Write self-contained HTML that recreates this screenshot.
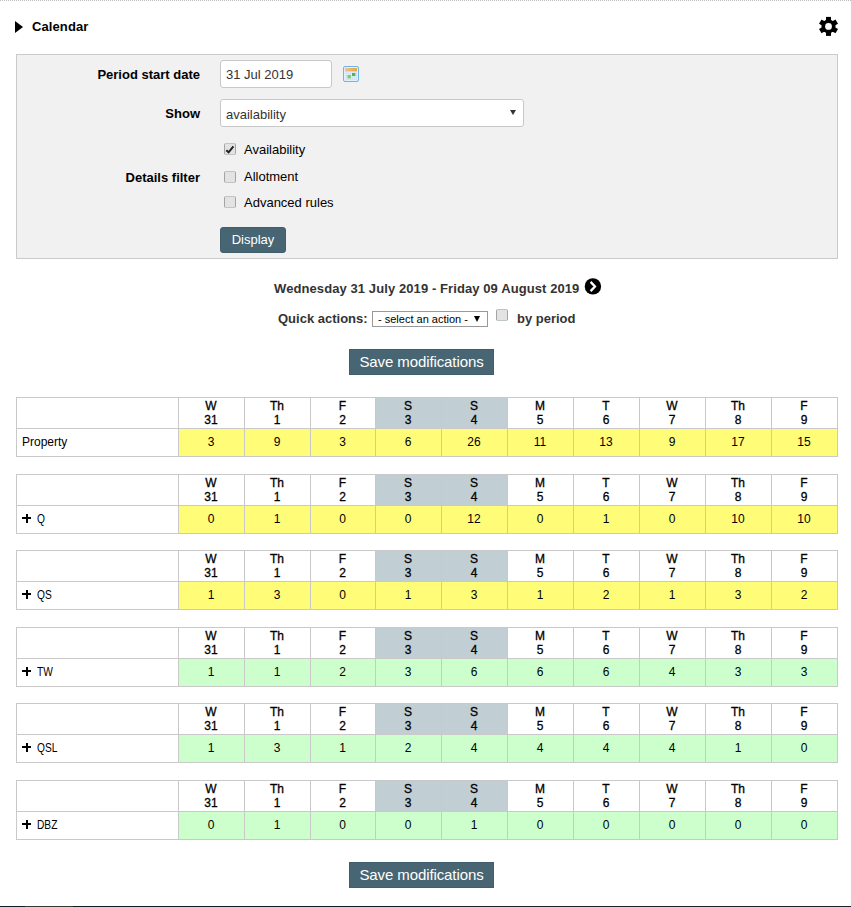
<!DOCTYPE html>
<html><head><meta charset="utf-8">
<style>
html,body{margin:0;padding:0;background:#fff;}
body{width:851px;height:907px;position:relative;overflow:hidden;font-family:"Liberation Sans",sans-serif;font-size:13px;color:#000;}
.a{position:absolute;white-space:nowrap;}
.topline{left:0;top:0;width:851px;height:0;border-top:1px dotted #bdbdbd;}
.tri{left:15px;top:21px;width:0;height:0;border-left:8px solid #000;border-top:6px solid transparent;border-bottom:6px solid transparent;}
.b{font-weight:bold;}
.panel{left:16px;top:54px;width:820px;height:203px;background:#f1f1f1;border:1px solid #cacaca;}
.lbl{font-weight:bold;text-align:right;width:200px;left:0;line-height:15px;}
.inp{background:#fff;border:1px solid #c8c8c8;border-radius:3px;box-sizing:border-box;}
.cb{width:12px;height:12px;box-sizing:border-box;border:1px solid;border-color:#bdc7bd #a4a4a4 #bdc7bd #a4a4a4;border-radius:2px;background:#e3e3e3;}
.btn{background:#476572;color:#fff;box-sizing:border-box;text-align:center;border:1px solid #415e6b;}
.tb{position:absolute;left:16px;width:822px;height:60px;font-size:12px;}
.tb div{position:absolute;}
.wk{top:1px;height:30px;background:#c1ced4;}
.dr{left:162px;top:32px;width:660px;height:27px;}
.y{background:#fffc78;}
.g{background:#ccffcc;}
.hl{left:0;width:822px;height:1px;background:#c9c9c9;}
.vl{top:0;width:1px;height:60px;background:#c9c9c9;}
.ht{top:2px;line-height:14px;font-weight:normal;-webkit-text-stroke:0.3px #000;text-align:center;}
.dt{top:38px;line-height:14px;text-align:center;}
.lt{left:6px;top:38px;line-height:14px;}
.nx{transform:scaleX(0.85);transform-origin:0 0;}
.pl{left:6px;top:40px;width:9px;height:9px;}
.pl:before{content:"";position:absolute;left:0;top:3.2px;width:9px;height:2.3px;background:#000;}
.pl:after{content:"";position:absolute;left:3.5px;top:0;width:2.2px;height:9px;background:#000;}
.bottom{left:0;top:906px;width:851px;height:1px;background:#1e2225;}
</style></head><body>
<div class="a topline"></div>
<div class="a tri"></div>
<div class="a b" style="left:32px;top:19px;line-height:15px;letter-spacing:0.1px;">Calendar</div>
<svg class="a" style="left:818px;top:16px" width="21" height="21" viewBox="0 0 21 21">
<g fill="#000"><circle cx="10.5" cy="10.4" r="7"/>
<rect x="8" y="0.9" width="5" height="19"/>
<rect x="8" y="0.9" width="5" height="19" transform="rotate(60 10.5 10.4)"/>
<rect x="8" y="0.9" width="5" height="19" transform="rotate(120 10.5 10.4)"/></g>
<circle cx="10.5" cy="10.4" r="3.4" fill="#fff"/></svg>

<div class="a panel"></div>
<div class="a lbl" style="top:67px">Period start date</div>
<div class="a inp" style="left:220px;top:60px;width:112px;height:28px;"></div>
<div class="a" style="left:226px;top:67px;line-height:15px;color:#333;">31 Jul 2019</div>
<svg class="a" style="left:343px;top:66px" width="16" height="16" viewBox="0 0 16 16">
<defs><linearGradient id="og" x1="0" x2="1" y1="0" y2="0"><stop offset="0" stop-color="#f4c488"/><stop offset="1" stop-color="#e6a445"/></linearGradient></defs>
<rect x="0.5" y="0.5" width="15" height="15" rx="1.5" fill="#e2f0fc" stroke="#72b2e4"/>
<rect x="2" y="2" width="12" height="3.6" fill="url(#og)"/>
<rect x="2" y="5.6" width="12" height="8.4" fill="#d3e3f6"/>
<path d="M2 6.6h12M2 8.6h12M2 10.6h12M2 12.6h12" stroke="#f4f8fd" stroke-width="0.6" stroke-dasharray="1 1"/>
<rect x="4.5" y="9" width="3.4" height="3.4" fill="#80cc68"/>
<rect x="9" y="7" width="3.4" height="3" fill="#5cb04c"/>
</svg>
<div class="a lbl" style="top:106px">Show</div>
<div class="a inp" style="left:220px;top:99px;width:304px;height:28px;"></div>
<div class="a" style="left:226px;top:107px;line-height:15px;color:#333;">availability</div>
<div class="a" style="left:510px;top:110px;width:0;height:0;border-left:3px solid transparent;border-right:3px solid transparent;border-top:5px solid #333;"></div>
<div class="a lbl" style="top:170px">Details filter</div>
<div class="a cb" style="left:224px;top:143px;"></div>
<svg class="a" style="left:224px;top:143px" width="12" height="12" viewBox="0 0 12 12"><path d="M2.3 7.2 L4.6 9.3 L9.4 3.4" fill="none" stroke="#222" stroke-width="2"/></svg>
<div class="a cb" style="left:224px;top:171px;"></div>
<div class="a cb" style="left:224px;top:196px;"></div>
<div class="a" style="left:244px;top:142px;line-height:15px;">Availability</div>
<div class="a" style="left:244px;top:169px;line-height:15px;">Allotment</div>
<div class="a" style="left:244px;top:195px;line-height:15px;">Advanced rules</div>
<div class="a btn" style="left:220px;top:227px;width:66px;height:26px;border-radius:3px;line-height:24px;">Display</div>

<div class="a b" style="left:274px;top:281px;color:#333;line-height:15px;letter-spacing:0.09px;">Wednesday 31 July 2019 - Friday 09 August 2019</div>
<svg class="a" style="left:584px;top:278px" width="18" height="18" viewBox="0 0 18 18"><circle cx="8.9" cy="8.4" r="8.2" fill="#000"/><path d="M6.6 3.9 L11 8.5 L6.6 13.1" fill="none" stroke="#fff" stroke-width="2.3"/></svg>
<div class="a b" style="left:278px;top:311px;color:#333;line-height:15px;">Quick actions:</div>
<div class="a" style="left:372px;top:311px;width:116px;height:16px;box-sizing:border-box;border:1px solid #999;background:#fff;"></div>
<div class="a" style="left:378px;top:312px;font-size:11px;line-height:14px;">- select an action -</div>
<div class="a" style="left:474px;top:316px;width:0;height:0;border-left:3.5px solid transparent;border-right:3.5px solid transparent;border-top:6px solid #000;"></div>
<div class="a cb" style="left:496px;top:309px;"></div>
<div class="a b" style="left:517px;top:311px;color:#333;line-height:15px;">by period</div>

<div class="a btn" style="left:349px;top:349px;width:145px;height:26px;line-height:24px;font-size:15px;letter-spacing:-0.1px;">Save modifications</div>
<!--TABLES-->
<div class="tb" style="top:397px"><div class="wk" style="left:359px;width:132px"></div><div class="dr y"></div><div class="hl" style="top:0px"></div><div class="hl" style="top:31px"></div><div class="hl" style="top:59px"></div><div class="vl" style="left:0px"></div><div class="vl" style="left:162px"></div><div class="vl" style="left:228px"></div><div class="vl" style="left:294px"></div><div class="vl" style="left:359px"></div><div class="vl" style="left:425px"></div><div class="vl" style="left:491px"></div><div class="vl" style="left:557px"></div><div class="vl" style="left:623px"></div><div class="vl" style="left:689px"></div><div class="vl" style="left:755px"></div><div class="vl" style="left:821px"></div><div class="ht" style="left:162px;width:66px">W<br>31</div><div class="dt" style="left:162px;width:66px">3</div><div class="ht" style="left:228px;width:66px">Th<br>1</div><div class="dt" style="left:228px;width:66px">9</div><div class="ht" style="left:294px;width:65px">F<br>2</div><div class="dt" style="left:294px;width:65px">3</div><div class="ht" style="left:359px;width:66px">S<br>3</div><div class="dt" style="left:359px;width:66px">6</div><div class="ht" style="left:425px;width:66px">S<br>4</div><div class="dt" style="left:425px;width:66px">26</div><div class="ht" style="left:491px;width:66px">M<br>5</div><div class="dt" style="left:491px;width:66px">11</div><div class="ht" style="left:557px;width:66px">T<br>6</div><div class="dt" style="left:557px;width:66px">13</div><div class="ht" style="left:623px;width:66px">W<br>7</div><div class="dt" style="left:623px;width:66px">9</div><div class="ht" style="left:689px;width:66px">Th<br>8</div><div class="dt" style="left:689px;width:66px">17</div><div class="ht" style="left:755px;width:66px">F<br>9</div><div class="dt" style="left:755px;width:66px">15</div><div class="lt">Property</div></div>
<div class="tb" style="top:474px"><div class="wk" style="left:359px;width:132px"></div><div class="dr y"></div><div class="hl" style="top:0px"></div><div class="hl" style="top:31px"></div><div class="hl" style="top:59px"></div><div class="vl" style="left:0px"></div><div class="vl" style="left:162px"></div><div class="vl" style="left:228px"></div><div class="vl" style="left:294px"></div><div class="vl" style="left:359px"></div><div class="vl" style="left:425px"></div><div class="vl" style="left:491px"></div><div class="vl" style="left:557px"></div><div class="vl" style="left:623px"></div><div class="vl" style="left:689px"></div><div class="vl" style="left:755px"></div><div class="vl" style="left:821px"></div><div class="ht" style="left:162px;width:66px">W<br>31</div><div class="dt" style="left:162px;width:66px">0</div><div class="ht" style="left:228px;width:66px">Th<br>1</div><div class="dt" style="left:228px;width:66px">1</div><div class="ht" style="left:294px;width:65px">F<br>2</div><div class="dt" style="left:294px;width:65px">0</div><div class="ht" style="left:359px;width:66px">S<br>3</div><div class="dt" style="left:359px;width:66px">0</div><div class="ht" style="left:425px;width:66px">S<br>4</div><div class="dt" style="left:425px;width:66px">12</div><div class="ht" style="left:491px;width:66px">M<br>5</div><div class="dt" style="left:491px;width:66px">0</div><div class="ht" style="left:557px;width:66px">T<br>6</div><div class="dt" style="left:557px;width:66px">1</div><div class="ht" style="left:623px;width:66px">W<br>7</div><div class="dt" style="left:623px;width:66px">0</div><div class="ht" style="left:689px;width:66px">Th<br>8</div><div class="dt" style="left:689px;width:66px">10</div><div class="ht" style="left:755px;width:66px">F<br>9</div><div class="dt" style="left:755px;width:66px">10</div><div class="pl"></div><div class="lt nx" style="left:21px">Q</div></div>
<div class="tb" style="top:550px"><div class="wk" style="left:359px;width:132px"></div><div class="dr y"></div><div class="hl" style="top:0px"></div><div class="hl" style="top:31px"></div><div class="hl" style="top:59px"></div><div class="vl" style="left:0px"></div><div class="vl" style="left:162px"></div><div class="vl" style="left:228px"></div><div class="vl" style="left:294px"></div><div class="vl" style="left:359px"></div><div class="vl" style="left:425px"></div><div class="vl" style="left:491px"></div><div class="vl" style="left:557px"></div><div class="vl" style="left:623px"></div><div class="vl" style="left:689px"></div><div class="vl" style="left:755px"></div><div class="vl" style="left:821px"></div><div class="ht" style="left:162px;width:66px">W<br>31</div><div class="dt" style="left:162px;width:66px">1</div><div class="ht" style="left:228px;width:66px">Th<br>1</div><div class="dt" style="left:228px;width:66px">3</div><div class="ht" style="left:294px;width:65px">F<br>2</div><div class="dt" style="left:294px;width:65px">0</div><div class="ht" style="left:359px;width:66px">S<br>3</div><div class="dt" style="left:359px;width:66px">1</div><div class="ht" style="left:425px;width:66px">S<br>4</div><div class="dt" style="left:425px;width:66px">3</div><div class="ht" style="left:491px;width:66px">M<br>5</div><div class="dt" style="left:491px;width:66px">1</div><div class="ht" style="left:557px;width:66px">T<br>6</div><div class="dt" style="left:557px;width:66px">2</div><div class="ht" style="left:623px;width:66px">W<br>7</div><div class="dt" style="left:623px;width:66px">1</div><div class="ht" style="left:689px;width:66px">Th<br>8</div><div class="dt" style="left:689px;width:66px">3</div><div class="ht" style="left:755px;width:66px">F<br>9</div><div class="dt" style="left:755px;width:66px">2</div><div class="pl"></div><div class="lt nx" style="left:21px">QS</div></div>
<div class="tb" style="top:627px"><div class="wk" style="left:359px;width:132px"></div><div class="dr g"></div><div class="hl" style="top:0px"></div><div class="hl" style="top:31px"></div><div class="hl" style="top:59px"></div><div class="vl" style="left:0px"></div><div class="vl" style="left:162px"></div><div class="vl" style="left:228px"></div><div class="vl" style="left:294px"></div><div class="vl" style="left:359px"></div><div class="vl" style="left:425px"></div><div class="vl" style="left:491px"></div><div class="vl" style="left:557px"></div><div class="vl" style="left:623px"></div><div class="vl" style="left:689px"></div><div class="vl" style="left:755px"></div><div class="vl" style="left:821px"></div><div class="ht" style="left:162px;width:66px">W<br>31</div><div class="dt" style="left:162px;width:66px">1</div><div class="ht" style="left:228px;width:66px">Th<br>1</div><div class="dt" style="left:228px;width:66px">1</div><div class="ht" style="left:294px;width:65px">F<br>2</div><div class="dt" style="left:294px;width:65px">2</div><div class="ht" style="left:359px;width:66px">S<br>3</div><div class="dt" style="left:359px;width:66px">3</div><div class="ht" style="left:425px;width:66px">S<br>4</div><div class="dt" style="left:425px;width:66px">6</div><div class="ht" style="left:491px;width:66px">M<br>5</div><div class="dt" style="left:491px;width:66px">6</div><div class="ht" style="left:557px;width:66px">T<br>6</div><div class="dt" style="left:557px;width:66px">6</div><div class="ht" style="left:623px;width:66px">W<br>7</div><div class="dt" style="left:623px;width:66px">4</div><div class="ht" style="left:689px;width:66px">Th<br>8</div><div class="dt" style="left:689px;width:66px">3</div><div class="ht" style="left:755px;width:66px">F<br>9</div><div class="dt" style="left:755px;width:66px">3</div><div class="pl"></div><div class="lt nx" style="left:21px">TW</div></div>
<div class="tb" style="top:703px"><div class="wk" style="left:359px;width:132px"></div><div class="dr g"></div><div class="hl" style="top:0px"></div><div class="hl" style="top:31px"></div><div class="hl" style="top:59px"></div><div class="vl" style="left:0px"></div><div class="vl" style="left:162px"></div><div class="vl" style="left:228px"></div><div class="vl" style="left:294px"></div><div class="vl" style="left:359px"></div><div class="vl" style="left:425px"></div><div class="vl" style="left:491px"></div><div class="vl" style="left:557px"></div><div class="vl" style="left:623px"></div><div class="vl" style="left:689px"></div><div class="vl" style="left:755px"></div><div class="vl" style="left:821px"></div><div class="ht" style="left:162px;width:66px">W<br>31</div><div class="dt" style="left:162px;width:66px">1</div><div class="ht" style="left:228px;width:66px">Th<br>1</div><div class="dt" style="left:228px;width:66px">3</div><div class="ht" style="left:294px;width:65px">F<br>2</div><div class="dt" style="left:294px;width:65px">1</div><div class="ht" style="left:359px;width:66px">S<br>3</div><div class="dt" style="left:359px;width:66px">2</div><div class="ht" style="left:425px;width:66px">S<br>4</div><div class="dt" style="left:425px;width:66px">4</div><div class="ht" style="left:491px;width:66px">M<br>5</div><div class="dt" style="left:491px;width:66px">4</div><div class="ht" style="left:557px;width:66px">T<br>6</div><div class="dt" style="left:557px;width:66px">4</div><div class="ht" style="left:623px;width:66px">W<br>7</div><div class="dt" style="left:623px;width:66px">4</div><div class="ht" style="left:689px;width:66px">Th<br>8</div><div class="dt" style="left:689px;width:66px">1</div><div class="ht" style="left:755px;width:66px">F<br>9</div><div class="dt" style="left:755px;width:66px">0</div><div class="pl"></div><div class="lt nx" style="left:21px">QSL</div></div>
<div class="tb" style="top:780px"><div class="wk" style="left:359px;width:132px"></div><div class="dr g"></div><div class="hl" style="top:0px"></div><div class="hl" style="top:31px"></div><div class="hl" style="top:59px"></div><div class="vl" style="left:0px"></div><div class="vl" style="left:162px"></div><div class="vl" style="left:228px"></div><div class="vl" style="left:294px"></div><div class="vl" style="left:359px"></div><div class="vl" style="left:425px"></div><div class="vl" style="left:491px"></div><div class="vl" style="left:557px"></div><div class="vl" style="left:623px"></div><div class="vl" style="left:689px"></div><div class="vl" style="left:755px"></div><div class="vl" style="left:821px"></div><div class="ht" style="left:162px;width:66px">W<br>31</div><div class="dt" style="left:162px;width:66px">0</div><div class="ht" style="left:228px;width:66px">Th<br>1</div><div class="dt" style="left:228px;width:66px">1</div><div class="ht" style="left:294px;width:65px">F<br>2</div><div class="dt" style="left:294px;width:65px">0</div><div class="ht" style="left:359px;width:66px">S<br>3</div><div class="dt" style="left:359px;width:66px">0</div><div class="ht" style="left:425px;width:66px">S<br>4</div><div class="dt" style="left:425px;width:66px">1</div><div class="ht" style="left:491px;width:66px">M<br>5</div><div class="dt" style="left:491px;width:66px">0</div><div class="ht" style="left:557px;width:66px">T<br>6</div><div class="dt" style="left:557px;width:66px">0</div><div class="ht" style="left:623px;width:66px">W<br>7</div><div class="dt" style="left:623px;width:66px">0</div><div class="ht" style="left:689px;width:66px">Th<br>8</div><div class="dt" style="left:689px;width:66px">0</div><div class="ht" style="left:755px;width:66px">F<br>9</div><div class="dt" style="left:755px;width:66px">0</div><div class="pl"></div><div class="lt nx" style="left:21px">DBZ</div></div>
<!--/TABLES-->
<div class="a btn" style="left:349px;top:862px;width:145px;height:26px;line-height:24px;font-size:15px;letter-spacing:-0.1px;">Save modifications</div>
<div class="a bottom" style="background:linear-gradient(to right,#0f1c25 0,#0f1c25 25px,#3c3935 25px,#3c3935 73px,#0f1c25 73px,#0f1c25 440px,#1f2327 440px)"></div>
</body></html>
